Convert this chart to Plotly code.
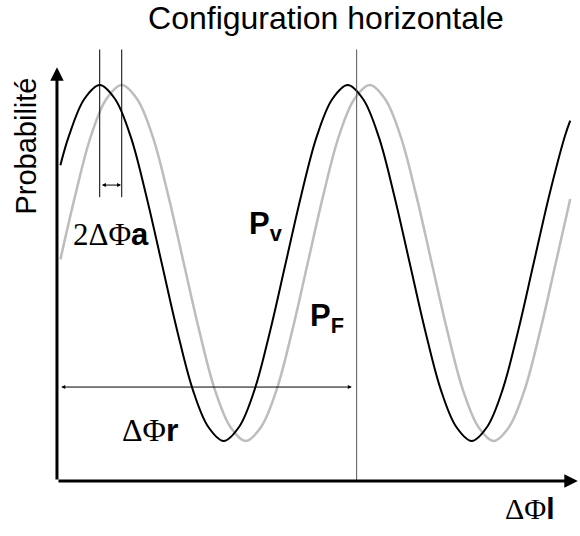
import plotly.graph_objects as go

# phase offset (deg, 360 = one period) and probability (normalised, -1..1)
phase_v = [5, 17, 39.5, 62, 84.5, 107, 129.5, 152, 174.5, 197, 219.5, 242,
           264.5, 287, 309.5, 332, 354.5, 377, 399.5, 422, 444.5, 467, 489.5, 512,
           534.5, 557, 579.5, 602, 624.5, 647, 669.5, 692, 714.5, 737, 745]
prob_v = [0.55, 0.71, 0.92, 1, 0.92, 0.71, 0.38, 0, -0.38, -0.71, -0.92, -1,
          -0.92, -0.71, -0.38, 0, 0.38, 0.71, 0.92, 1, 0.92, 0.71, 0.38, 0,
          -0.38, -0.71, -0.92, -1, -0.92, -0.71, -0.38, 0, 0.38, 0.71, 0.80]

phase_f = [5, 26.5, 49, 71.5, 94, 116.5, 139, 161.5, 184, 206.5, 229, 251.5,
           274, 296.5, 319, 341.5, 364, 386.5, 409, 431.5, 454, 476.5, 499, 521.5,
           544, 566.5, 589, 611.5, 634, 656.5, 679, 701.5, 724, 745]
prob_f = [0.02, 0.38, 0.71, 0.92, 1, 0.92, 0.71, 0.38, 0, -0.38, -0.71, -0.92,
          -1, -0.92, -0.71, -0.38, 0, 0.38, 0.71, 0.92, 1, 0.92, 0.71, 0.38,
          0, -0.38, -0.71, -0.92, -1, -0.92, -0.71, -0.38, 0, 0.36]

peak_v = 62        # first peak of P_v
peak_f = 94        # first peak of P_F
period_mark = 435  # marker one period later

SERIF = "Liberation Serif, Times New Roman, serif"
SANS = "Liberation Sans, Arial, sans-serif"

fig = go.Figure()

fig.add_trace(go.Scatter(
    x=phase_f, y=prob_f, mode="lines",
    line=dict(color="#bdbdbd", width=2.5, shape="spline"),
    hoverinfo="skip",
))
fig.add_trace(go.Scatter(
    x=phase_v, y=prob_v, mode="lines",
    line=dict(color="black", width=2, shape="spline"),
    hoverinfo="skip",
))

x_floor = -1.225

shapes = [
    dict(type="line", x0=peak_v, x1=peak_v, y0=0.37, y1=1.2, line=dict(color="black", width=1)),
    dict(type="line", x0=peak_f, x1=peak_f, y0=0.37, y1=1.2, line=dict(color="black", width=1)),
    dict(type="line", x0=period_mark, x1=period_mark, y0=x_floor, y1=1.2,
         line=dict(color="#555555", width=1)),
]


def arrow(x0, y0, x1, y1, width=1, head=2, size=1.0, side="end"):
    return dict(
        x=x1, y=y1, ax=x0, ay=y0, xref="x", yref="y", axref="x", ayref="y",
        text="", showarrow=True, arrowhead=head, startarrowhead=head,
        arrowsize=size, startarrowsize=size, arrowwidth=width,
        arrowcolor="black", arrowside=side,
    )


def label(x, y, text, size=28, anchor="left", angle=0):
    return dict(
        x=x, y=y, xref="x", yref="y", text=text, showarrow=False,
        xanchor=anchor, yanchor="middle", textangle=angle,
        font=dict(family=SANS, size=size, color="black"),
    )


annotations = [
    # axes
    arrow(0, x_floor, 0, 1.10, width=3, head=2, size=0.9),
    arrow(0, x_floor, 756, x_floor, width=3, head=2, size=0.9),
    # 2ΔΦa and ΔΦr markers
    arrow(peak_v + 1, 0.438, peak_f - 1, 0.438, width=1, head=2, size=0.8, side="end+start"),
    arrow(4, -0.697, 428, -0.697, width=1, head=2, size=0.8, side="end+start"),
    # texts
    label(20, 0.16, f"<span style='font-family:{SERIF}'>2ΔΦ</span><b>a</b>", size=31),
    label(276, 0.21, "<b>P<sub>v</sub></b>", size=31),
    label(364, -0.31, "<b>P<sub>F</sub></b>", size=31),
    label(92, -0.94, f"<span style='font-family:{SERIF}'>ΔΦ</span><b>r</b>", size=32),
    label(648, -1.38, f"<span style='font-family:{SERIF}'>ΔΦ</span><b>l</b>", size=30),
    label(-45, 0.66, "Probabilité", size=29, anchor="center", angle=-90),
]

fig.update_layout(
    width=580, height=536,
    margin=dict(l=0, r=0, t=0, b=0),
    paper_bgcolor="white", plot_bgcolor="white",
    showlegend=False,
    title=dict(
        text="Configuration horizontale",
        x=0.562, y=0.967, xanchor="center", yanchor="middle",
        font=dict(family=SANS, size=32, color="black"),
    ),
    xaxis=dict(range=[-82.7, 759.2], visible=False, fixedrange=True),
    yaxis=dict(range=[-1.534, 1.478], visible=False, fixedrange=True),
    shapes=shapes,
    annotations=annotations,
)

# drop the default page margin so the figure sits at the window's corner
fig.write_html(
    "out.html",
    config={"displayModeBar": False},
    post_script="document.body.style.margin = '0';",
)
